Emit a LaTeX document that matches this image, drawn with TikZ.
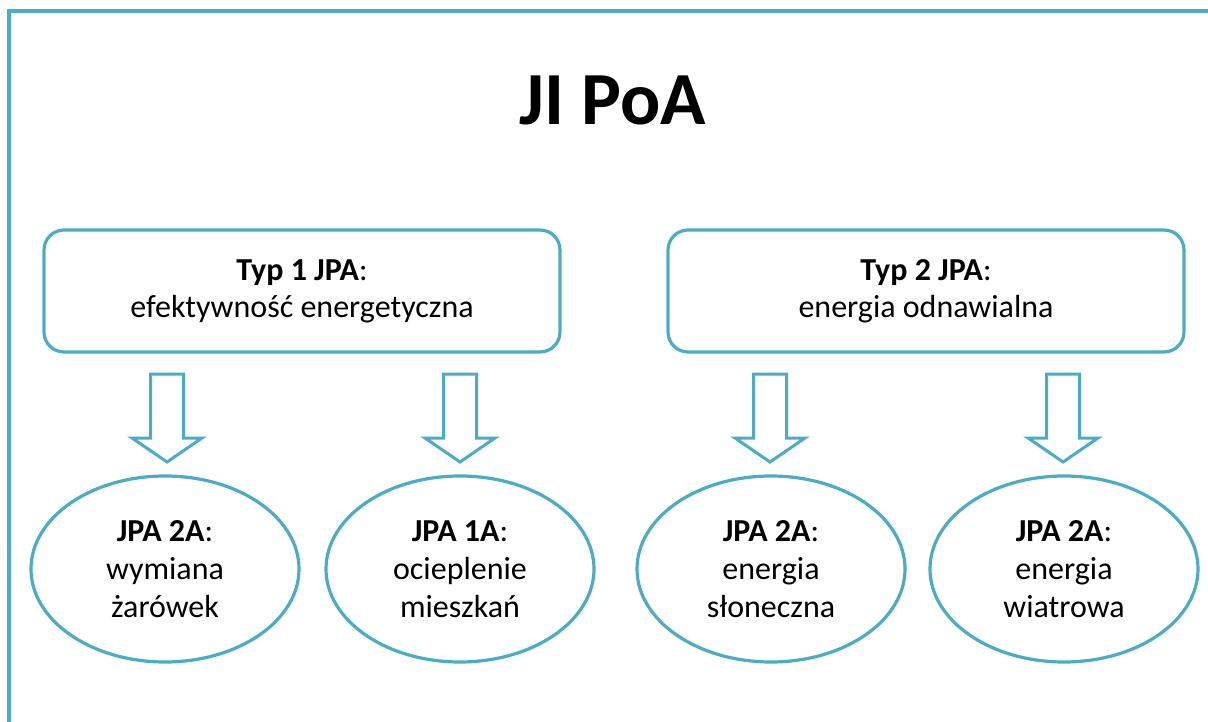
\documentclass[tikz,border=0pt]{standalone}
\usepackage{fontspec}
\setmainfont{Carlito}
\usetikzlibrary{shapes.geometric}
\definecolor{acc}{HTML}{4BACC6}
\tikzset{
  box/.style={draw=acc, line width=3.2pt, rounded corners=20pt, minimum width=516pt, minimum height=122pt, align=center, font=\fontsize{32}{37}\selectfont, inner sep=0pt},
  oval/.style={ellipse, draw=acc, line width=3.2pt, minimum width=268pt, minimum height=186pt, align=center, font=\fontsize{32}{38}\selectfont, inner sep=0pt},
  frame/.style={draw=acc, line width=4pt},
  blockarrow/.pic={\draw[acc, line width=3pt, line join=miter] (-16.5,0) -- (16.5,0) -- (16.5,64) -- (35,64) -- (0,88) -- (-35,64) -- (-16.5,64) -- cycle;}
}
\begin{document}
\begin{tikzpicture}[x=1pt,y=-1pt]
\useasboundingbox (0,0) rectangle (1208,722);
\draw[frame] (9,722) -- (9,11) -- (1208,11);
\node (title) at (613,100) {\fontsize{75}{78}\selectfont\bfseries JI PoA};
\node[box] (t1) at (302,291) {\textbf{Typ 1 JPA}:\\efektywność energetyczna};
\node[box] (t2) at (926,291) {\textbf{Typ 2 JPA}:\\energia odnawialna};
\pic at (167,374) {blockarrow};
\pic at (460,374) {blockarrow};
\pic at (770,374) {blockarrow};
\pic at (1063,374) {blockarrow};
\node[oval] (e1) at (165,569) {\textbf{JPA 2A}:\\wymiana\\żarówek};
\node[oval] (e2) at (460,569) {\textbf{JPA 1A}:\\ocieplenie\\mieszkań};
\node[oval] (e3) at (771,569) {\textbf{JPA 2A}:\\energia\\słoneczna};
\node[oval] (e4) at (1064,569) {\textbf{JPA 2A}:\\energia\\wiatrowa};
\end{tikzpicture}
\end{document}
